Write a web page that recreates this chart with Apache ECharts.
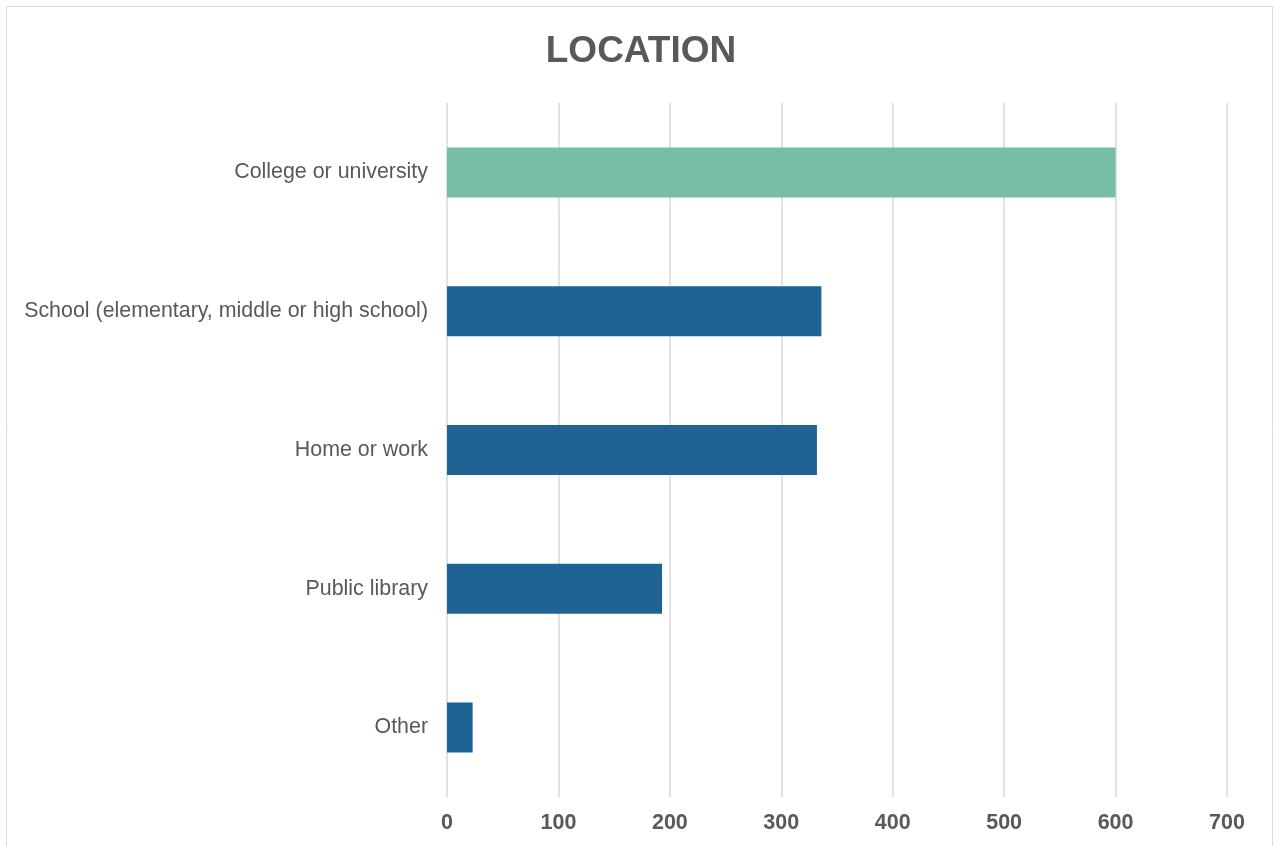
<!DOCTYPE html>
<html>
<head>
<meta charset="utf-8">
<script src="https://cdn.jsdelivr.net/npm/echarts@6/dist/echarts.min.js"></script>
<style>
  html, body { margin: 0; padding: 0; background: #fff; }
  #chart { width: 1274px; height: 846px; }
</style>
</head>
<body>
<div id="chart"></div>
<script>
// categories top to bottom
const categories = ['College or university', 'School (elementary, middle or high school)', 'Home or work', 'Public library', 'Other']
const counts = [600, 336, 332, 193, 23]
const barColors = ['#76BEA8', '#1E6394', '#1E6394', '#1E6394', '#1E6394']
const xTicks = { min: 0, max: 700, interval: 100 }

const chart = echarts.init(document.getElementById('chart'))

chart.setOption({
  animation: false,
  title: {
    text: 'LOCATION',
    left: 636,
    textAlign: 'center',
    top: 28,
    textStyle: {
      fontFamily: 'Liberation Sans, Arial, sans-serif',
      fontSize: 37,
      fontWeight: 'bold',
      color: '#595959'
    }
  },
  graphic: [
    {
      type: 'rect',
      shape: { x: 6.5, y: 6.5, width: 1266, height: 900 },
      style: { fill: 'none', stroke: '#d9d9d9', lineWidth: 1 },
      silent: true
    }
  ],
  grid: {
    left: 447,
    right: 47,
    top: 103,
    bottom: 49
  },
  xAxis: {
    type: 'value',
    min: xTicks.min,
    max: xTicks.max,
    interval: xTicks.interval,
    axisLine: { show: false },
    axisTick: { show: false },
    splitLine: { lineStyle: { color: '#d9d9d9', width: 1.5 } },
    axisLabel: {
      margin: 15,
      fontFamily: 'Liberation Sans, Arial, sans-serif',
      fontSize: 21.5,
      fontWeight: 'bold',
      color: '#595959'
    }
  },
  yAxis: {
    type: 'category',
    data: categories,
    inverse: true,
    axisLine: { show: false },
    axisTick: { show: false },
    axisLabel: {
      margin: 19,
      fontFamily: 'Liberation Sans, Arial, sans-serif',
      fontSize: 21.4,
      color: '#595959'
    }
  },
  series: [
    {
      type: 'bar',
      barWidth: 50,
      data: counts.map((v, i) => ({ value: v, itemStyle: { color: barColors[i] } }))
    }
  ]
})
</script>
</body>
</html>
